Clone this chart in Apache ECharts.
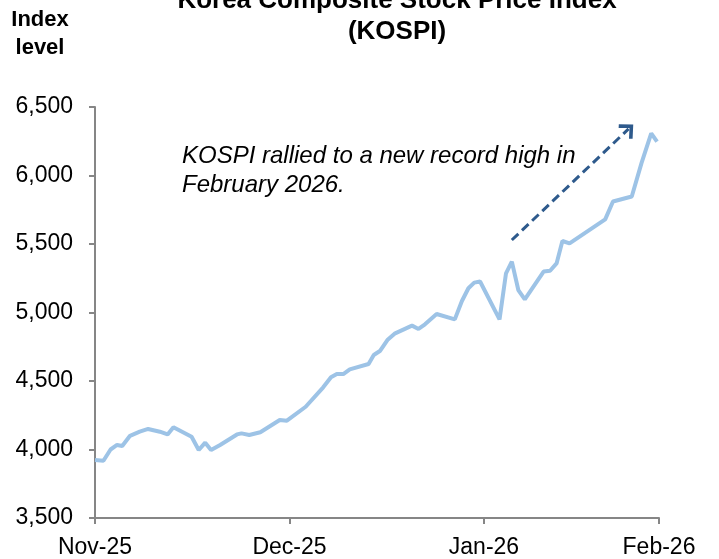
<!DOCTYPE html>
<html>
<head>
<meta charset="utf-8">
<script src="https://cdn.jsdelivr.net/npm/echarts@6/dist/echarts.min.js"></script>
<style>
  html, body { margin: 0; padding: 0; background: #fff; }
  #chart { width: 719px; height: 559px; }
</style>
</head>
<body>
<div id="chart"></div>
<script>
// Days since 1 Nov 2025 (position on the date axis) and KOSPI closing levels
var days = [0, 1.3, 2.4, 3.4, 4.2, 5.4, 6.9, 8.2, 10.0, 11.2, 12.1, 14.9, 16.0, 17.0, 17.9, 19.3,
            21.9, 22.6, 23.8, 25.5, 28.5, 29.6, 32.5, 35.2, 36.4, 37.3, 38.3, 39.3, 42.2, 43.0,
            44.0, 45.1, 46.3, 48.9, 49.9, 50.9, 52.7, 55.5, 56.6, 57.6, 58.5, 59.4, 62.4, 63.4,
            64.3, 65.3, 66.3, 69.2, 70.2, 71.2, 72.1, 73.2, 78.7, 79.9, 82.8, 84.3, 85.8, 86.7];
var kospi = [3923, 3918, 4000, 4033, 4026, 4100, 4130, 4150, 4130, 4110, 4162, 4093, 3996, 4050, 3996, 4033,
             4110, 4118, 4106, 4126, 4215, 4210, 4312, 4454, 4527, 4551, 4551, 4585, 4624, 4690,
             4721, 4799, 4848, 4904, 4880, 4914, 4989, 4950, 5084, 5177, 5218, 5226, 4950, 5286,
             5371, 5164, 5096, 5299, 5305, 5358, 5522, 5504, 5680, 5810, 5847, 6090, 6307, 6247];
var monthLabels = ['Nov-25', 'Dec-25', 'Jan-26', 'Feb-26'];
var monthTicks = [0, 30, 60, 87];
var yTicks = { min: 3500, max: 6500, step: 500 };
var arrowStart = [64.3, 5529];
var arrowEnd = [82.3, 6340];
var titleText = 'Korea Composite Stock Price Index\n(KOSPI)';
var axisTitle = 'Index\nlevel';
var noteText = 'KOSPI rallied to a new record high in\nFebruary 2026.';

var points = days.map(function (d, i) { return [d, kospi[i]]; });
var FONT = '"Liberation Sans", Arial, sans-serif';
var axisColor = '#868686';

var chart = echarts.init(document.getElementById('chart'), null, { renderer: 'canvas' });
chart.setOption({
  animation: false,
  backgroundColor: '#ffffff',
  grid: { left: 95, right: 60, top: 107, bottom: 41 },
  xAxis: {
    type: 'value',
    min: monthTicks[0],
    max: monthTicks[monthTicks.length - 1],
    interval: 30,
    splitLine: { show: false },
    axisLine: { show: true, lineStyle: { color: axisColor, width: 2 } },
    axisTick: { show: true, inside: false, length: 6, lineStyle: { color: axisColor, width: 2 } },
    axisLabel: {
      margin: 18,
      fontFamily: FONT, fontSize: 23, color: '#000',
      showMinLabel: true, showMaxLabel: true,
      formatter: function (v) {
        var idx = monthTicks.indexOf(v);
        if (idx < 0) { idx = Math.round(v / 30); }
        return monthLabels[idx] || '';
      }
    }
  },
  yAxis: {
    type: 'value',
    min: yTicks.min, max: yTicks.max, interval: yTicks.step,
    splitLine: { show: false },
    axisLine: { show: true, lineStyle: { color: axisColor, width: 2 } },
    axisTick: { show: true, inside: false, length: 6, lineStyle: { color: axisColor, width: 2 } },
    axisLabel: {
      margin: 22,
      fontFamily: FONT, fontSize: 23, color: '#000',
      formatter: function (v) { return v.toLocaleString('en-US'); }
    }
  },
  graphic: [
    { type: 'text', x: 397, y: -15, z: 10,
      style: { text: titleText, fontFamily: FONT, fontSize: 26, fontWeight: 'bold',
               fill: '#000', align: 'center', verticalAlign: 'top', lineHeight: 31 } },
    { type: 'text', x: 40, y: 6, z: 10,
      style: { text: axisTitle, fontFamily: FONT, fontSize: 22, fontWeight: 'bold',
               fill: '#000', align: 'center', verticalAlign: 'top', lineHeight: 28 } },
    { type: 'text', x: 182, y: 142, z: 10,
      style: { text: noteText, fontFamily: FONT, fontSize: 24, fontStyle: 'italic',
               fill: '#000', verticalAlign: 'top', lineHeight: 29 } }
  ],
  series: [{
    type: 'line',
    data: points,
    showSymbol: false,
    symbol: 'none',
    lineStyle: { color: '#9DC3E6', width: 4 },
    markLine: {
      silent: true,
      symbol: ['none', 'path://M0,10 L10,0 L20,10 L17.5,12.5 L10,5 L2.5,12.5 Z'],
      symbolSize: [20, 13],
      label: { show: false },
      lineStyle: { color: '#2E5A8C', width: 3, type: [9, 5] },
      data: [[ { coord: arrowStart }, { coord: arrowEnd } ]]
    }
  }]
});
</script>
</body>
</html>
